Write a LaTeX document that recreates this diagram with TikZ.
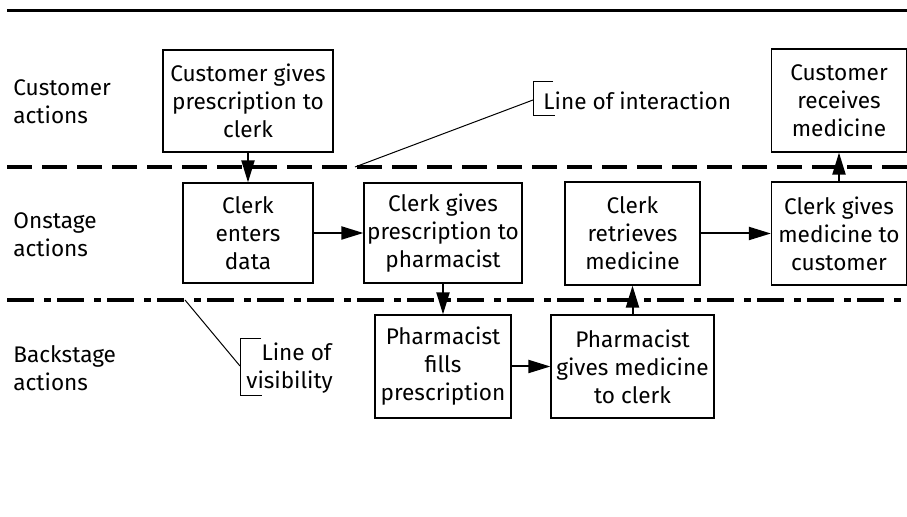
\documentclass[tikz,border=0pt]{standalone}
\usepackage{fontspec}
\setmainfont{Fira Sans}
\usetikzlibrary{arrows.meta}
\begin{document}
\begin{tikzpicture}[x=0.5pt,y=-0.5pt,
  box/.style={draw,line width=0.6pt,align=center,inner sep=0pt,font=\fontsize{11.3}{14}\selectfont},
  lane/.style={align=left,anchor=west,inner sep=0pt,font=\fontsize{11.3}{14}\selectfont},
  flow/.style={line width=1pt,-{Triangle[length=11pt,width=6.5pt]}},
  callout/.style={line width=0.5pt},
  note/.style={anchor=west,inner sep=0pt,align=left,font=\fontsize{11.3}{14}\selectfont}]
\useasboundingbox (0,0) rectangle (907,517);
% swim-lane separators
\draw[line width=1.5pt] (7,11) -- (907,11);
\draw[line width=2pt,dash pattern=on 12.5pt off 5pt] (7,167) -- (907,167);
\draw[line width=2pt,dash pattern=on 13.5pt off 5pt on 3.5pt off 3pt] (7,300) -- (907,300);
% lane labels
\node[lane] (l1) at (13,102) {Customer\\actions};
\node[lane] (l2) at (13,235) {Onstage\\actions};
\node[lane] (l3) at (13,368) {Backstage\\actions};
% boxes
\node[box,minimum width=85pt,minimum height=51pt] (b1) at (248,101) {Customer gives\\prescription to\\clerk};
\node[box,minimum width=65pt,minimum height=50pt] (b2) at (248,233) {Clerk\\enters\\data};
\node[box,minimum width=79pt,minimum height=50pt] (b3) at (443,233) {Clerk gives\\prescription to\\pharmacist};
\node[box,minimum width=67.5pt,minimum height=51.5pt] (b4) at (632.5,233.5) {Clerk\\retrieves\\medicine};
\node[box,minimum width=67.5pt,minimum height=51.5pt] (b5) at (839,233.5) {Clerk gives\\medicine to\\customer};
\node[box,minimum width=67.5pt,minimum height=51.5pt] (b6) at (839,100.5) {Customer\\receives\\medicine};
\node[box,minimum width=68pt,minimum height=51.5pt] (b7) at (443,366.5) {Pharmacist\\fills\\prescription};
\node[box,minimum width=81.5pt,minimum height=51.5pt] (b8) at (632.5,366.5) {Pharmacist\\gives medicine\\to clerk};
% flows
\draw[flow] (b1.south) -- (b2.north);
\draw[flow] (b2.east) -- (b3.west);
\draw[flow] (b3.south) -- (b7.north);
\draw[flow] (b7.east) -- (b8.west);
\draw[flow] (b8.north) -- (b4.south);
\draw[flow] (b4.east) -- (b5.west);
\draw[flow] (b5.north) -- (b6.south);
% line of interaction callout
\coordinate (ia) at (355,167);
\coordinate (ib) at (533,100);
\draw[callout] (ia) -- (ib);
\draw[callout] (553,82) -- (533,82) -- (533,116) -- (555,116);
\node[note] (ni) at (543,101) {Line of interaction};
% line of visibility callout
\coordinate (va) at (185,300);
\coordinate (vb) at (240,366);
\draw[callout] (va) -- (vb);
\draw[callout] (261,339) -- (240,339) -- (240,396) -- (262,396);
\node[note,align=center] (nv) at (246,368) {\hspace*{7pt}Line of\\visibility};
\end{tikzpicture}
\end{document}
